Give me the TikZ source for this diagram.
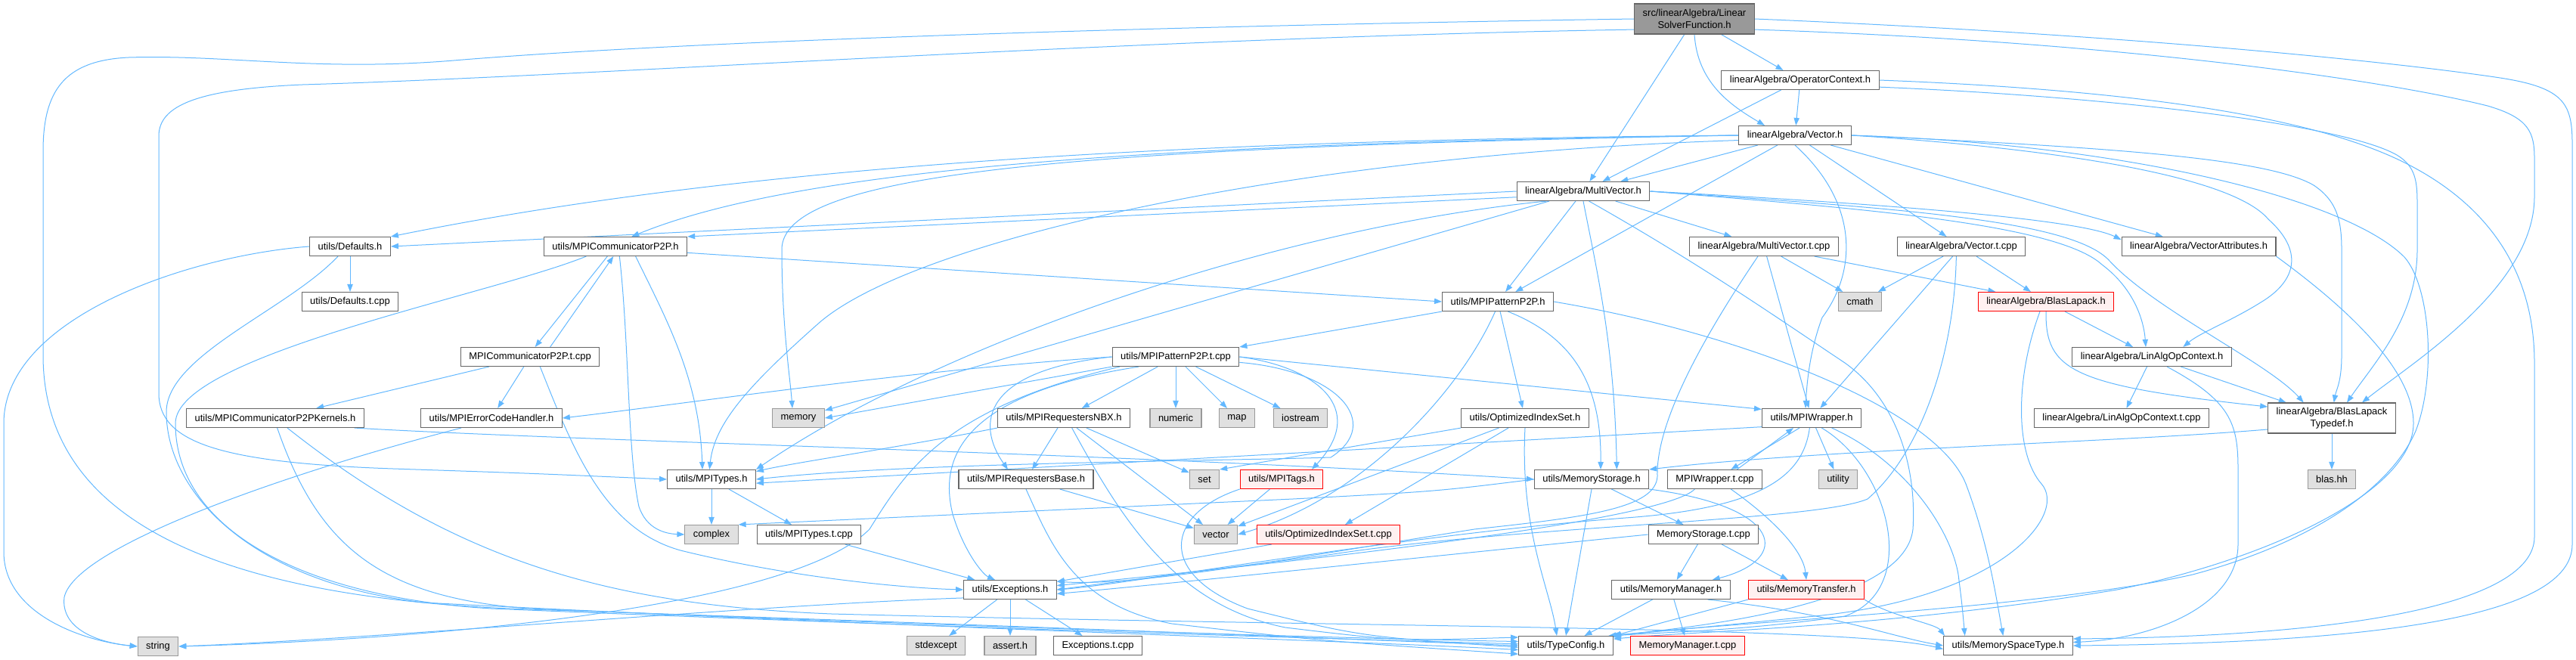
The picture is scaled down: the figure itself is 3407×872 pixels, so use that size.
\documentclass[tikz,border=0pt]{standalone}
\usepackage{fontspec}
\setmainfont{Liberation Sans}
\usetikzlibrary{arrows.meta,backgrounds}
\definecolor{edgeblue}{RGB}{99,184,255}
\definecolor{boxgray}{RGB}{102,102,102}
\definecolor{sysgray}{RGB}{153,153,153}
\definecolor{sysfill}{RGB}{224,224,224}
\definecolor{rootfill}{RGB}{153,153,153}
\definecolor{redfill}{RGB}{255,240,240}
\newcommand{\depfont}{\fontsize{9.7pt}{11.5pt}\selectfont}

\begin{document}
\begin{tikzpicture}[x=0.75pt,y=-0.75pt,
  file/.style={draw=boxgray,fill=white,line width=0.8pt,inner xsep=8.25pt,inner ysep=2pt,
               minimum height=18.75pt,font=\depfont,align=center},
  sysfile/.style={file,draw=sysgray,fill=sysfill},
  cutfile/.style={file,draw=red,fill=redfill},
  topfile/.style={file,fill=rootfill,minimum height=30pt},
  dep/.style={draw=edgeblue,line width=0.75pt,-{Triangle[length=7.5pt,width=5.5pt]}}]
  \useasboundingbox (0,0) rectangle (3407,872);

  % files, row by row
  \node[topfile] (root) at (2241,25) {src/linearAlgebra/Linear\\SolverFunction.h};
  \node[file] (opctx) at (2381,106) {linearAlgebra/OperatorContext.h};
  \node[file] (vec) at (2374,179) {linearAlgebra/Vector.h};
  \node[file] (mvec) at (2094,253) {linearAlgebra/MultiVector.h};
  \node[file] (defs) at (463,326) {utils/Defaults.h};
  \node[file] (commp) at (814,326) {utils/MPICommunicatorP2P.h};
  \node[file] (mvect) at (2333,326) {linearAlgebra/MultiVector.t.cpp};
  \node[file] (vect) at (2594,326) {linearAlgebra/Vector.t.cpp};
  \node[file] (vattr) at (2908,326) {linearAlgebra/VectorAttributes.h};
  \node[file] (defst) at (463,399) {utils/Defaults.t.cpp};
  \node[file] (patp) at (1981,399) {utils/MPIPatternP2P.h};
  \node[sysfile] (cmath) at (2460,399) {cmath};
  \node[cutfile] (blas) at (2706,399) {linearAlgebra/BlasLapack.h};
  \node[file] (commt) at (701,472) {MPICommunicatorP2P.t.cpp};
  \node[file] (patt) at (1555,472) {utils/MPIPatternP2P.t.cpp};
  \node[file] (linctx) at (2846,472) {linearAlgebra/LinAlgOpContext.h};
  \node[file] (kern) at (364,553) {utils/MPICommunicatorP2PKernels.h};
  \node[file] (errh) at (650,553) {utils/MPIErrorCodeHandler.h};
  \node[sysfile] (memory) at (1056,553) {memory};
  \node[file] (nbx) at (1407,553) {utils/MPIRequestersNBX.h};
  \node[sysfile] (numeric) at (1555,553) {numeric};
  \node[sysfile] (map) at (1636,553) {map};
  \node[sysfile] (iostream) at (1720,553) {iostream};
  \node[file] (optset) at (2017,553) {utils/OptimizedIndexSet.h};
  \node[file] (mpiw) at (2396,553) {utils/MPIWrapper.h};
  \node[file] (linctxt) at (2806,553) {linearAlgebra/LinAlgOpContext.t.cpp};
  \node[file,minimum height=30pt] (bltd) at (3084,553) {linearAlgebra/BlasLapack\\Typedef.h};
  \node[file] (mpitypes) at (941,634) {utils/MPITypes.h};
  \node[file] (reqbase) at (1357,634) {utils/MPIRequestersBase.h};
  \node[sysfile] (set) at (1593,634) {set};
  \node[cutfile] (tags) at (1695,634) {utils/MPITags.h};
  \node[file] (memst) at (2105,634) {utils/MemoryStorage.h};
  \node[file] (mpiwt) at (2268,634) {MPIWrapper.t.cpp};
  \node[sysfile] (utility) at (2431,634) {utility};
  \node[sysfile] (blashh) at (3084,634) {blas.hh};
  \node[sysfile] (complex) at (941,707) {complex};
  \node[file] (typest) at (1070,707) {utils/MPITypes.t.cpp};
  \node[sysfile] (vector) at (1608,707) {vector};
  \node[cutfile] (optsett) at (1757,707) {utils/OptimizedIndexSet.t.cpp};
  \node[file] (memstt) at (2253,707) {MemoryStorage.t.cpp};
  \node[file] (exc) at (1336,780) {utils/Exceptions.h};
  \node[file] (memman) at (2210,780) {utils/MemoryManager.h};
  \node[cutfile] (memtr) at (2389,780) {utils/MemoryTransfer.h};
  \node[sysfile] (string) at (209,855) {string};
  \node[sysfile] (stdexcept) at (1238,854) {stdexcept};
  \node[sysfile] (assert) at (1336,854) {assert.h};
  \node[file] (exct) at (1452,854) {Exceptions.t.cpp};
  \node[file] (tcfg) at (2071,854) {utils/TypeConfig.h};
  \node[cutfile] (memmant) at (2232,854) {MemoryManager.t.cpp};
  \node[file] (mst) at (2656,854) {utils/MemorySpaceType.h};

  \begin{scope}[on background layer]
  % short straight includes
  \foreach \a/\b in {root/opctx,root/mvec,opctx/vec,opctx/mvec,vec/mvec,vec/patp,vec/vect,vec/vattr,
      mvec/memory,mvec/patp,mvec/mvect,defs/defst,commt/kern,commt/errh,patp/optset,
      patt/nbx,patt/numeric,patt/map,patt/iostream,nbx/reqbase,nbx/set,nbx/vector,reqbase/vector,
      mpitypes/complex,mpitypes/typest,tags/vector,optset/vector,optset/optsett,optsett/exc,
      mpiw/utility,memst/memstt,memstt/memman,memstt/memtr,memman/tcfg,memman/memmant,
      exc/stdexcept,exc/assert,exc/exct,mvect/blas,mvect/cmath,mvect/mpiw,vect/blas,vect/cmath,
      vect/mpiw,blas/linctx,linctx/linctxt,linctx/bltd,bltd/blashh}
    \draw[dep] (\a) -- (\b);

  % root
  \draw[dep] (root.south) .. controls (2245,110) and (2290,140) .. ([xshift=-30pt]vec.north);
  \draw[dep] (root.west) .. controls (1500,35) and (900,55) .. (600,80) .. controls (420,95) and (300,72) .. (170,76)
    .. controls (85,80) and (57,120) .. (57,200) -- (57,470) .. controls (57,690) and (290,792) .. (700,806)
    .. controls (1300,826) and (1800,846) .. (tcfg.west);
  \draw[dep] (root.190) .. controls (1500,50) and (800,100) .. (400,112) .. controls (260,118) and (210,140) .. (210,180)
    -- (210,520) .. controls (210,585) and (290,612) .. (520,620) .. controls (700,626) .. (mpitypes.west);
  \draw[dep] (root.east) .. controls (2800,45) and (3150,80) .. (3300,102) .. controls (3390,115) and (3402,135) .. (3402,190)
    -- (3402,720) .. controls (3402,815) and (3150,850) .. (mst.east);
  \draw[dep] (root.350) .. controls (2800,55) and (3150,105) .. (3290,140) .. controls (3345,156) and (3352,175) .. (3352,210)
    -- (3352,260) .. controls (3352,380) and (3190,480) .. ([xshift=30pt]bltd.north);

  % operator context
  \draw[dep] (opctx.east) .. controls (2800,118) and (3050,150) .. (3180,215) .. controls (3310,280) and (3352,380) .. (3352,480)
    -- (3352,710) .. controls (3352,800) and (3100,842) .. (mst.6);
  \draw[dep] (opctx.355) .. controls (2800,128) and (3100,165) .. (3170,205) .. controls (3195,220) and (3197,240) .. (3197,270)
    -- (3197,330) .. controls (3197,420) and (3140,480) .. ([xshift=15pt]bltd.north);

  % vector
  \draw[dep] (vec.west) .. controls (1600,185) and (1000,215) .. (defs.north east);
  \draw[dep] (vec.west) .. controls (1500,190) and (1050,225) .. ([xshift=16pt]commp.north);
  \draw[dep] (vec.west) .. controls (1400,195) and (1034,230) .. (1034,330) .. controls (1034,430) and (1045,500) .. ([xshift=-6pt]memory.north);
  \draw[dep] (vec.185) .. controls (1700,205) and (1200,320) .. (1080,430) .. controls (990,510) and (945,560) .. ([xshift=-2pt]mpitypes.north);
  \draw[dep] (vec.south) .. controls (2460,270) and (2455,360) .. (2410,420) .. controls (2395,460) and (2390,500) .. ([xshift=-6pt]mpiw.north);
  \draw[dep] (vec.east) .. controls (2700,195) and (2950,230) .. (3000,290) .. controls (3045,330) and (3040,370) .. (2990,400)
    .. controls (2950,425) and (2910,440) .. ([xshift=31pt]linctx.north);
  \draw[dep] (vec.east) .. controls (2800,195) and (3000,210) .. (3060,245) .. controls (3090,265) and (3097,290) .. (3097,330)
    -- (3097,470) .. controls (3097,505) and (3090,515) .. ([xshift=2pt]bltd.north);
  \draw[dep] (vec.east) .. controls (2800,190) and (3100,260) .. (3180,340) .. controls (3215,380) and (3222,500) .. (3195,570)
    .. controls (3160,650) and (3050,720) .. (2900,760) .. controls (2700,805) and (2300,822) .. (tcfg.north east);

  % multivector
  \draw[dep] (mvec.west) -- (defs.east);
  \draw[dep] (mvec.185) -- (commp.north east);
  \draw[dep] (mvec.195) .. controls (1700,300) and (1250,450) .. (mpitypes.north east);
  \draw[dep] (mvec.south) .. controls (2110,350) and (2135,450) .. ([xshift=25pt]memst.north);
  \draw[dep] (mvec.east) .. controls (2500,270) and (2750,290) .. (vattr.175);
  \draw[dep] (mvec.east) .. controls (2450,275) and (2720,295) .. (2780,350) .. controls (2820,380) and (2835,420) .. ([xshift=-6pt]linctx.north);
  \draw[dep] (mvec.east) .. controls (2500,275) and (2740,290) .. (2790,345) .. controls (2850,410) and (3000,480) .. ([xshift=-28pt]bltd.north);
  \draw[dep] (mvec.300) .. controls (2250,350) and (2350,420) .. (2440,480) .. controls (2510,530) and (2535,620) .. (2530,700)
    .. controls (2520,790) and (2300,825) .. ([xshift=-5pt]tcfg.north east);

  % defaults
  \draw[dep] (defs.west) .. controls (250,338) and (5,420) .. (5,560) -- (5,730) .. controls (5,812) and (110,848) .. (string.west);
  \draw[dep] ([xshift=-12pt]defs.south) .. controls (380,410) and (220,470) .. (220,545) .. controls (220,650) and (330,770) .. (560,797)
    .. controls (1200,830) and (1800,848) .. (tcfg.185);

  % communicator
  \draw[dep] ([xshift=-8pt]commp.south) -- ([xshift=5pt]commt.north);
  \draw[dep] ([xshift=20pt]commt.north) -- ([xshift=-2pt]commp.south);
  \draw[dep] (commp.355) -- (patp.west);
  \draw[dep] ([xshift=-29pt]commp.south) .. controls (650,390) and (232,470) .. (232,560) .. controls (232,700) and (400,790) .. (650,805)
    .. controls (1300,832) and (1800,846) .. (tcfg.178);
  \draw[dep] ([xshift=20pt]commp.south) .. controls (880,420) and (925,500) .. ([xshift=-9pt]mpitypes.north);
  \draw[dep] ([xshift=4pt]commp.south) .. controls (832,450) and (830,600) .. (845,670) .. controls (855,700) and (880,706) .. (complex.west);
  \draw[dep] ([xshift=10pt]commt.south) .. controls (760,600) and (800,700) .. (900,728) .. controls (1050,765) and (1200,778) .. (exc.west);

  % kernels and error handler
  \draw[dep] ([xshift=-10pt]kern.south east) .. controls (800,585) and (1500,600) .. (memst.west);
  \draw[dep] ([xshift=2pt]kern.south) .. controls (420,720) and (500,790) .. (700,805) .. controls (1300,830) and (1800,845) .. (tcfg.175);
  \draw[dep] ([xshift=12pt]kern.south) .. controls (600,740) and (800,800) .. (1100,812) .. controls (1800,830) and (2450,828) .. (mst.183);
  \draw[dep] ([xshift=-30pt]errh.south) .. controls (400,620) and (100,720) .. (85,790) .. controls (80,832) and (130,850) .. (string.west);

  % pattern
  \draw[dep] (patp.south west) -- (patt.north east);
  \draw[dep] ([xshift=10pt]patp.south) .. controls (2090,450) and (2118,520) .. ([xshift=9pt]memst.north);
  \draw[dep] (patp.east) .. controls (2300,440) and (2560,540) .. (2600,640) .. controls (2630,720) and (2640,790) .. ([xshift=-5pt]mst.north);
  \draw[dep] (patp.255) .. controls (1930,520) and (1800,660) .. (vector.east);
  \draw[dep] (patt.west) .. controls (1200,490) and (900,535) .. (errh.east);
  \draw[dep] (patt.south west) -- (memory.east);
  \draw[dep] (patt.west) .. controls (1300,490) and (1290,560) .. ([xshift=-18pt]reqbase.north);
  \draw[dep] (patt.190) .. controls (1250,540) and (1200,620) .. (1150,700) .. controls (1050,800) and (600,845) .. (string.east);
  \draw[dep] (patt.195) .. controls (1280,520) and (1240,600) .. (1260,680) .. controls (1275,730) and (1300,760) .. ([xshift=-15pt]exc.north);
  \draw[dep] (patt.east) -- (mpiw.170);
  \draw[dep] (patt.east) .. controls (1740,485) and (1810,540) .. ([xshift=30pt]tags.north);
  \draw[dep] (patt.355) .. controls (1770,490) and (1830,560) .. (1760,605) .. controls (1600,610) and (1200,612) .. (mpitypes.east);

  % requesters, tags, index set
  \draw[dep] (nbx.south west) .. controls (1200,590) and (1050,612) .. (mpitypes.10);
  \draw[dep] ([xshift=8pt]nbx.south) .. controls (1480,680) and (1550,800) .. (1700,830) .. controls (1850,848) .. (tcfg.170);
  \draw[dep] (reqbase.south) .. controls (1390,720) and (1420,800) .. (1550,825) .. controls (1750,848) .. (tcfg.190);
  \draw[dep] (tags.south west) .. controls (1540,680) and (1530,760) .. (1650,805) .. controls (1800,842) .. (tcfg.182);
  \draw[dep] (optset.south west) -- (set.north east);
  \draw[dep] (optset.south) .. controls (2010,700) and (2050,780) .. ([xshift=-9pt]tcfg.north);
  \draw[dep] (typest) -- ([xshift=-35pt]exc.north);

  % mpi wrapper
  \draw[dep] (mpiw.190) -- (mpitypes.355);
  \draw[dep] ([xshift=-12pt]mpiw.south) -- ([xshift=16pt]mpiwt.north);
  \draw[dep] ([xshift=22pt]mpiwt.north) -- ([xshift=-18pt]mpiw.south);
  \draw[dep] ([xshift=-2pt]mpiw.south) .. controls (2385,630) and (2330,672) .. (2150,685) .. controls (1850,708) and (1500,772) .. (exc.east);
  \draw[dep] ([xshift=10pt]mpiw.south) .. controls (2500,620) and (2540,780) .. (2440,815) .. controls (2300,835) and (2200,836) .. (tcfg.north east);
  \draw[dep] ([xshift=20pt]mpiw.south) .. controls (2520,610) and (2580,700) .. (2590,760) .. controls (2595,800) .. ([xshift=-43pt]mst.north);
  \draw[dep] ([xshift=-20pt]mpiwt.south) .. controls (2200,690) and (1700,745) .. (exc.5);
  \draw[dep] ([xshift=16pt]mpiwt.south) .. controls (2350,690) and (2385,730) .. (memtr.north);

  % memory
  \draw[dep] (memst.south) -- (tcfg.north);
  \draw[dep] (memst.south east) .. controls (2360,670) and (2370,740) .. ([xshift=41pt]memman.north);
  \draw[dep] (memst.west) .. controls (1900,650) .. (1710,660) -- (complex.north east);
  \draw[dep] (memstt.west) .. controls (1900,735) and (1550,772) .. (exc.355);
  \draw[dep] (memman.345) .. controls (2420,810) and (2500,842) .. (mst.west);
  \draw[dep] (memtr.south west) -- (tcfg.north east);
  \draw[dep] (memtr.south east) .. controls (2500,815) and (2560,825) .. ([xshift=-63pt]mst.north);
  \draw[dep] (exc.190) .. controls (1000,800) and (500,845) .. (string.east);

  % template sources and blas
  \draw[dep] ([xshift=-6pt]mvect.south) .. controls (2250,450) and (2190,560) .. (2192,630) .. controls (2190,672) and (2100,684) .. (1950,700)
    .. controls (1700,740) and (1500,776) .. (exc.10);
  \draw[dep] ([xshift=-5pt]vect.south) .. controls (2585,470) and (2540,600) .. (2470,660) .. controls (2400,690) and (2000,695) .. (1750,735)
    .. controls (1550,760) .. (exc.east);
  \draw[dep] (blas.south) .. controls (2705,490) and (2740,510) .. (bltd.170);
  \draw[dep] ([xshift=-6pt]blas.south) .. controls (2665,500) and (2665,600) .. (2700,640) .. controls (2735,680) and (2650,790) .. (2400,815)
    .. controls (2250,830) .. ([xshift=-3pt]tcfg.north east);
  \draw[dep] ([xshift=15pt]linctx.south) .. controls (2950,530) and (2960,560) .. (2960,620) -- (2960,720)
    .. controls (2960,800) and (2850,845) .. (mst.3);
  \draw[dep] (bltd.190) .. controls (2800,585) and (2400,595) .. (memst.north east);
  \draw[dep] (vattr.south east) .. controls (3080,390) and (3192,480) .. (3192,560) .. controls (3192,650) and (3000,740) .. (2800,780)
    .. controls (2500,830) and (2250,834) .. (tcfg.8);
  \end{scope}
\end{tikzpicture}
\end{document}
